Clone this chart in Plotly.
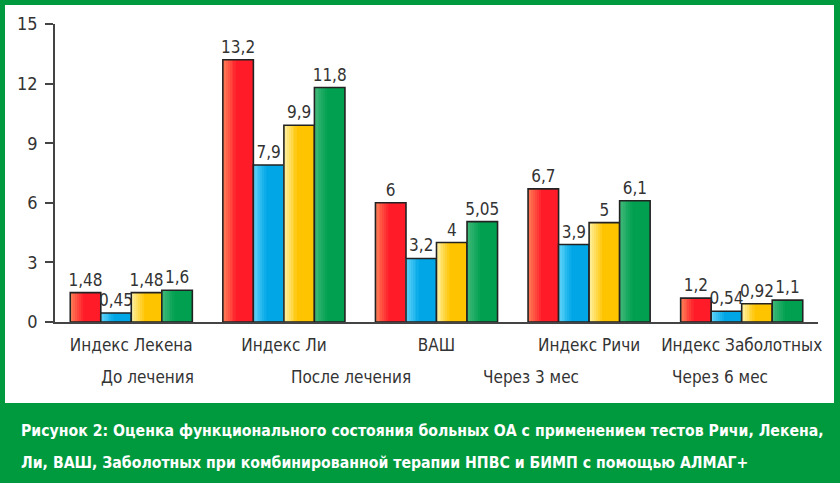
import plotly.graph_objects as go

categories = ["Индекс Лекена", "Индекс Ли", "ВАШ", "Индекс Ричи", "Индекс Заболотных"]
series_names = ["До лечения", "После лечения", "Через 3 мес", "Через 6 мес"]
before = [1.48, 13.2, 6, 6.7, 1.2]
after = [0.45, 7.9, 3.2, 3.9, 0.54]
month3 = [1.48, 9.9, 4, 5, 0.92]
month6 = [1.6, 11.8, 5.05, 6.1, 1.1]
y_ticks = [0, 3, 6, 9, 12, 15]
caption_lines = ["Рисунок 2: Оценка функционального состояния больных ОА с применением тестов Ричи, Лекена,",
                 "Ли, ВАШ, Заболотных при комбинированной терапии НПВС и БИМП с помощью АЛМАГ+"]

series = [before, after, month3, month6]
base_colors = ["#ff1c28", "#00a6e6", "#ffc400", "#00a050"]
light_colors = ["#ff8058", "#60d4fa", "#fff2a8", "#40b878"]

FONT = "Liberation Sans Narrow, Arial Narrow, DejaVu Sans Condensed, sans-serif"
CAPFONT = "DejaVu Sans Condensed, sans-serif"
GREEN = "#009a3e"


def hex2rgb(h):
    h = h.lstrip("#")
    return tuple(int(h[i:i + 2], 16) for i in (0, 2, 4))


def mix(c1, c2, t):
    a, b = hex2rgb(c1), hex2rgb(c2)
    return "rgb(%d,%d,%d)" % tuple(round(a[k] + (b[k] - a[k]) * t) for k in range(3))


fig = go.Figure()
bw = 0.2
nb = 7
band = 0.012
for i, (vals, name) in enumerate(zip(series, series_names)):
    off = -0.4 + bw * i
    fig.add_trace(go.Bar(x=categories, y=vals, name=name, offset=off, width=bw,
                         marker=dict(color=base_colors[i], line=dict(width=0)),
                         showlegend=False, hoverinfo="skip"))
    for j in range(nb):
        fig.add_trace(go.Bar(x=categories, y=vals, offset=off + band * j, width=band * 1.05,
                             marker=dict(color=mix(light_colors[i], base_colors[i], j / nb),
                                         line=dict(width=0)),
                             showlegend=False, hoverinfo="skip"))
    fig.add_trace(go.Bar(x=categories, y=vals, name=name, offset=off, width=bw,
                         marker=dict(color="rgba(0,0,0,0)", line=dict(width=1.6, color="#222")),
                         texttemplate="%{y}", textposition="outside", constraintext="none",
                         textfont=dict(family=FONT, size=17, color="#333"),
                         cliponaxis=False, showlegend=False))

l, r, t, b = 55, 22, 24, 161
pw, ph = 840 - l - r, 483 - t - b


def px_x(px):
    return (px - l) / pw


def px_y(py):
    return (483 - b - py) / ph


fig.add_shape(type="rect", xref="paper", yref="paper", layer="below",
              x0=px_x(5), x1=px_x(834), y0=px_y(403), y1=px_y(5),
              fillcolor="white", line=dict(width=0))

leg_x = [147, 351, 531, 720]
for name, px in zip(series_names, leg_x):
    fig.add_annotation(text=name, xref="paper", yref="paper", x=px_x(px),
                       y=px_y(377), showarrow=False, xanchor="center", yanchor="middle",
                       font=dict(family=FONT, size=17, color="#333"))

for line, py in zip(caption_lines, [430, 462]):
    fig.add_annotation(text=line, xref="paper", yref="paper", x=px_x(19),
                       y=px_y(py), showarrow=False, xanchor="left", yanchor="middle",
                       font=dict(family=CAPFONT, size=15.7, color="white", weight="bold"))

fig.update_layout(
    width=840, height=483,
    margin=dict(l=l, r=r, t=t, b=b),
    paper_bgcolor=GREEN, plot_bgcolor="white",
    barmode="overlay",
    separators=", ",
    font=dict(family=FONT, color="#333"),
    showlegend=False,
    xaxis=dict(showline=True, linecolor="#444", linewidth=1.5, ticks="", showgrid=False,
               tickfont=dict(family=FONT, size=17, color="#333"), ticklabelstandoff=7,
               range=[-0.5, 4.5]),
    yaxis=dict(range=[0, 15], tickvals=y_ticks, showline=True, linecolor="#444", linewidth=1.5,
               ticks="outside", ticklen=8, tickwidth=1.5, tickcolor="#444", showgrid=False,
               zeroline=False, tickfont=dict(family=FONT, size=18, color="#333"),
               ticklabelstandoff=4),
)

fig.write_html("out.html")
